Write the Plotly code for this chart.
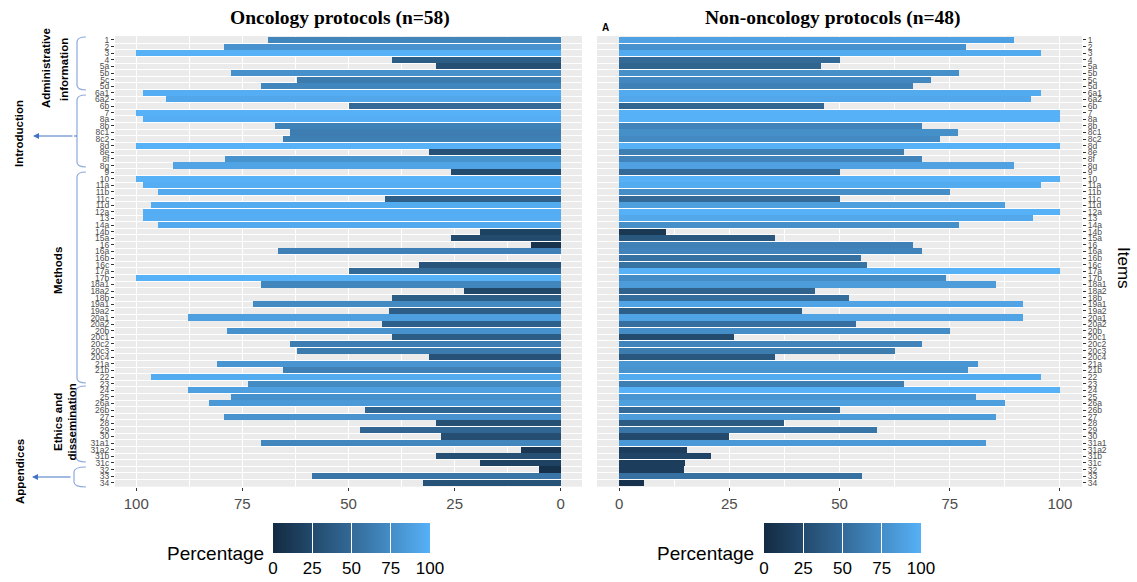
import numpy as np
import plotly.graph_objects as go

items = ["1","2","3","4","5a","5b","5c","5d","6a1","6a2","6b","7","8a","8b","8c1","8c2","8d","8e","8f","8g",
         "9","10","11a","11b","11c","11d","12a","13","14a","14b","15a","16","16a","16b","16c","17a","17b",
         "18a1","18a2","18b","19a1","19a2","20a1","20a2","20b","20c1","20c2","20c3","20c4","21a","21b",
         "22","23","24","25","26a","26b","27","28","29","30","31a1","31a2","31b","31c","32","33","34"]

oncology = [69.0, 79.3, 100, 39.7, 29.3, 77.6, 62.1, 70.7, 98.3, 93.1, 50.0, 100, 98.3, 67.2, 63.8, 65.5,
            100, 31.0, 79.0, 91.4, 25.9, 100, 98.3, 94.8, 41.4, 96.6, 98.3, 98.3, 94.8, 19.0, 25.9, 6.9,
            66.7, 0, 33.3, 50.0, 100, 70.7, 22.8, 39.7, 72.4, 40.5, 87.9, 42.1, 78.6, 39.7, 63.8, 62.1,
            31.0, 81.0, 65.5, 96.6, 73.7, 87.9, 77.6, 82.8, 46.1, 79.3, 29.3, 47.3, 28.2, 70.7, 9.3,
            29.3, 19.0, 5.2, 58.6, 32.4]

non_oncology = [89.6, 78.7, 95.8, 50.0, 45.8, 77.1, 70.8, 66.7, 95.8, 93.4, 46.5, 100, 100, 68.7, 76.9, 72.9,
                100, 64.6, 68.7, 89.6, 50.0, 100, 95.8, 75.0, 50.0, 87.5, 100, 93.9, 77.1, 10.7, 35.4, 66.7,
                68.7, 54.8, 56.2, 100, 74.2, 85.4, 44.4, 52.1, 91.6, 41.5, 91.6, 53.7, 75.0, 26.1, 68.7, 62.5,
                35.4, 81.4, 79.1, 95.8, 64.6, 100, 81.0, 87.5, 50.0, 85.4, 37.5, 58.5, 25.0, 83.3, 15.4,
                20.8, 15.0, 14.7, 55.1, 5.7]

x_ticks = [0, 25, 50, 75, 100]

W, H = 1137, 582
def px(x): return x / W
def py(y): return 1 - y / H

# ---- ggplot-like Lab gradient #132B43 -> #56B1F7 ----
def hex2rgb(h):
    h = h.lstrip('#'); return np.array([int(h[i:i+2], 16) / 255 for i in (0, 2, 4)])
def srgb2lin(c): return np.where(c <= 0.04045, c / 12.92, ((c + 0.055) / 1.055) ** 2.4)
def lin2srgb(c): return np.where(c <= 0.0031308, 12.92 * c, 1.055 * np.clip(c, 0, None) ** (1 / 2.4) - 0.055)
M = np.array([[0.4124, 0.3576, 0.1805], [0.2126, 0.7152, 0.0722], [0.0193, 0.1192, 0.9505]])
Minv = np.linalg.inv(M)
WP = np.array([0.95047, 1.0, 1.08883])
def f(t): return np.where(t > (6/29)**3, np.cbrt(t), t / (3*(6/29)**2) + 4/29)
def finv(t): return np.where(t > 6/29, t**3, 3*(6/29)**2 * (t - 4/29))
def rgb2lab(c):
    xyz = M @ srgb2lin(c) / WP; fx, fy, fz = f(xyz)
    return np.array([116*fy - 16, 500*(fx - fy), 200*(fy - fz)])
def lab2rgb(lab):
    L, a, b = lab; fy = (L + 16) / 116; fx = fy + a / 500; fz = fy - b / 200
    xyz = np.array([finv(fx), finv(fy), finv(fz)]) * WP
    return np.clip(lin2srgb(Minv @ xyz), 0, 1)
lo, hi = rgb2lab(hex2rgb('#132B43')), rgb2lab(hex2rgb('#56B1F7'))
cscale = []
for t in np.linspace(0, 1, 11):
    r, g, b = (lab2rgb(lo + (hi - lo) * t) * 255).round().astype(int)
    cscale.append([float(t), f'rgb({r},{g},{b})'])

ypos = list(range(len(items)))

fig = go.Figure()
fig.add_trace(go.Bar(y=ypos, x=oncology, orientation='h', width=0.92,
                     marker=dict(color=oncology, coloraxis='coloraxis', line=dict(width=0)),
                     xaxis='x', yaxis='y', showlegend=False))
fig.add_trace(go.Bar(y=ypos, x=non_oncology, orientation='h', width=0.92,
                     marker=dict(color=non_oncology, coloraxis='coloraxis2', line=dict(width=0)),
                     xaxis='x2', yaxis='y2', showlegend=False))

grid_y = dict(tickmode='array', tickvals=[i + 0.5 for i in range(-1, len(items))],
              showgrid=True, gridcolor='white', gridwidth=1.4)
common_y = dict(tickmode='array', tickvals=ypos, ticktext=items, range=[len(items) - 0.4, -0.6],
                showgrid=False, zeroline=False, ticks='outside', ticklen=3, tickcolor='#333333',
                tickfont=dict(family='Liberation Sans, Arial', size=8.5, color='#4D4D4D'),
                minor=grid_y, domain=[py(486.7), py(36)])
common_x = dict(tickmode='array', tickvals=x_ticks, showgrid=True, gridcolor='white', gridwidth=1.1,
                zeroline=False, ticks='outside', ticklen=3, tickcolor='#333333',
                tickfont=dict(family='Liberation Sans, Arial', size=15, color='#4D4D4D'),
                minor=dict(tickmode='array', tickvals=[12.5, 37.5, 62.5, 87.5], showgrid=True,
                           gridcolor='white', gridwidth=0.55))

def cbar(xc):
    return dict(orientation='h', x=px(xc), xanchor='center', y=py(523), yanchor='top',
                len=157, lenmode='pixels', thickness=30, thicknessmode='pixels',
                tickmode='array', tickvals=x_ticks, ticks='inside', ticklen=30, tickcolor='white',
                tickwidth=1, tickfont=dict(family='Liberation Sans, Arial', size=17, color='black'),
                outlinewidth=0, xpad=0, ypad=0, title=dict(text=''))

fig.update_layout(
    width=W, height=H, margin=dict(l=0, r=0, t=0, b=0, autoexpand=False),
    paper_bgcolor='white', plot_bgcolor='#EBEBEB', bargap=0,
    xaxis=dict(common_x, domain=[px(115), px(582)], range=[105, -5], anchor='y'),
    xaxis2=dict(common_x, domain=[px(597), px(1082)], range=[-5, 105], anchor='y2'),
    yaxis=dict(common_y, anchor='x', side='left'),
    yaxis2=dict(common_y, anchor='x2', side='right'),
    coloraxis=dict(colorscale=cscale, cmin=0, cmax=100, colorbar=cbar(351.5)),
    coloraxis2=dict(colorscale=cscale, cmin=0, cmax=100, colorbar=cbar(842.5)),
)

ann = []
def text(x, y, s, size=11.5, bold=True, angle=-90, color='black', family='Liberation Sans, Arial'):
    ann.append(dict(x=px(x), y=py(y), xref='paper', yref='paper', text=f'<b>{s}</b>' if bold else s,
                    showarrow=False, textangle=angle, xanchor='center', yanchor='middle',
                    font=dict(family=family, size=size, color=color)))

text(340, 18, 'Oncology protocols (n=58)', size=19.5, angle=0, family='Liberation Serif, Times New Roman')
text(833, 18, 'Non-oncology protocols (n=48)', size=19.5, angle=0, family='Liberation Serif, Times New Roman')
text(605, 27, 'A', size=10, angle=0)
text(1123, 268, 'Items', size=17, bold=False, angle=90)
text(215, 553, 'Percentage', size=19, bold=False, angle=0)
text(705, 553, 'Percentage', size=19, bold=False, angle=0)

text(46, 68, 'Administrative')
text(64, 70, 'information')
text(19, 134, 'Introduction')
text(58, 271, 'Methods')
text(64.5, 422, 'Ethics and<br>dissemination')
text(20, 472, 'Appendices')

# arrows
for y, x0, x1 in [(136, 74, 33), (477, 72, 32)]:
    ann.append(dict(x=px(x1), y=py(y), xref='paper', yref='paper', ax=x0 - x1, ay=0, text='',
                    showarrow=True, arrowhead=2, arrowsize=1.2, arrowwidth=1, arrowcolor='#4472C4'))
fig.update_layout(annotations=ann)

# brackets
def bracket(top, bot, xv=77, xe=86, r=5):
    pts = [(xe, top), (xv, top), (xv, top + r), (xv, bot - r), (xv, bot), (xe, bot)]
    p = [(px(a), py(b)) for a, b in pts]
    return (f'M {p[0][0]},{p[0][1]} Q {p[1][0]},{p[1][1]} {p[2][0]},{p[2][1]} '
            f'L {p[3][0]},{p[3][1]} Q {p[4][0]},{p[4][1]} {p[5][0]},{p[5][1]}')

shapes = []
for top, bot, xv in [(37, 90, 77), (95, 167, 77), (172, 383, 77), (386, 462, 76), (467, 487, 74)]:
    shapes.append(dict(type='path', xref='paper', yref='paper', path=bracket(top, bot, xv),
                       line=dict(color='#8EA9DB', width=1.2)))
shapes.append(dict(type='line', xref='paper', yref='paper', x0=px(74), x1=px(77), y0=py(136), y1=py(136),
                   line=dict(color='#4472C4', width=1)))
fig.update_layout(shapes=shapes)

fig.write_html('out.html', config={'displayModeBar': False},
               post_script="document.body.style.margin='0px';")
